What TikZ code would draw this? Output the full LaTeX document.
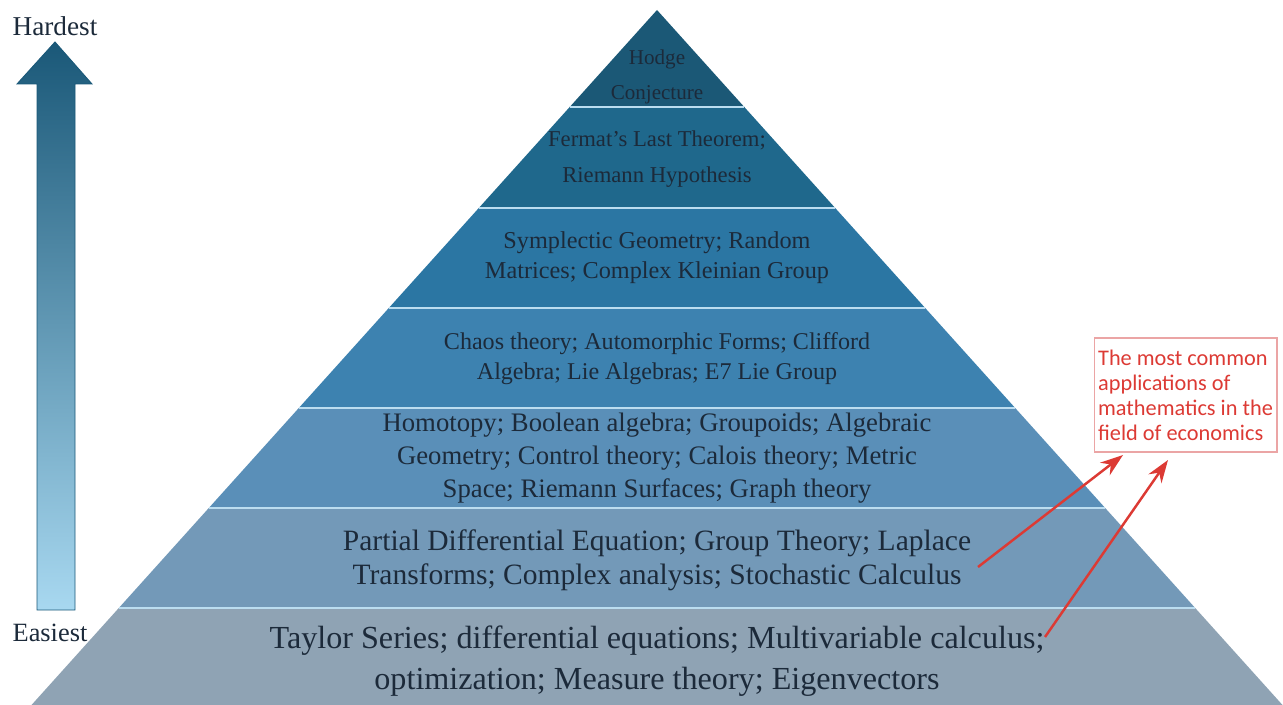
\documentclass[tikz,border=0pt]{standalone}
\usepackage{fontspec}
\setmainfont{Liberation Serif}
\newfontfamily\notefont{Carlito}
\usetikzlibrary{positioning}
\usetikzlibrary{arrows.meta}
\definecolor{bandA}{HTML}{1B5876}
\definecolor{bandB}{HTML}{1F688C}
\definecolor{bandC}{HTML}{2B76A3}
\definecolor{bandD}{HTML}{3D82B0}
\definecolor{bandE}{HTML}{5A8FB8}
\definecolor{bandF}{HTML}{7399B8}
\definecolor{bandG}{HTML}{8FA3B4}
\definecolor{sepc}{HTML}{BBDDF0}
\definecolor{textc}{HTML}{1C2A3A}
\definecolor{arrtop}{HTML}{1A5878}
\definecolor{arrmid}{HTML}{3F82AC}
\definecolor{arrbot}{HTML}{A8D8F0}
\definecolor{notered}{HTML}{DC3A34}
\definecolor{noteframe}{HTML}{EBA5A5}

\begin{document}
\begin{tikzpicture}[x=0.02cm, y=-0.02cm, thick,
    txt/.style = {align=center, text=textc, inner sep=0},
    sep/.style = {draw=sepc, line width=1.6pt},
    redarr/.style = {draw=notered, line width=1.4pt, -{Stealth[length=13pt, width=9pt]}}]
\useasboundingbox (0,0) rectangle (1283,705);

\foreach \ya/\yb/\c in {10/107/bandA, 107/208/bandB, 208/308/bandC, 308/408/bandD, 408/508/bandE, 508/608/bandF, 608/705/bandG}
    \fill[\c] ({657-0.9*(\ya-10)},\ya) -- ({657+0.9*(\ya-10)},\ya) -- ({657+0.9*(\yb-10)},\yb) -- ({657-0.9*(\yb-10)},\yb) -- cycle;
\foreach \y in {107,208,308,408,508,608}
    \draw[sep] ({657-0.9*(\y-10)},\y) -- ({657+0.9*(\y-10)},\y);

\node[txt, font=\fontsize{12}{20}\selectfont] (hodge) at (657,77) {Hodge\\Conjecture};
\node[txt, font=\fontsize{12.9}{20.4}\selectfont] (fermat) at (657,159) {Fermat's Last Theorem;\\Riemann Hypothesis};
\node[txt, font=\fontsize{13.8}{17}\selectfont] (sympl) at (657,258) {Symplectic Geometry; Random\\Matrices; Complex Kleinian Group};
\node[txt, font=\fontsize{13.7}{17}\selectfont] (chaos) at (657,359) {Chaos theory; Automorphic Forms; Clifford\\Algebra; Lie Algebras; E7 Lie Group};
\node[txt, font=\fontsize{15.2}{18.7}\selectfont] (homot) at (657,458) {Homotopy; Boolean algebra; Groupoids; Algebraic\\Geometry; Control theory; Calois theory; Metric\\Space; Riemann Surfaces; Graph theory};
\node[txt, font=\fontsize{16.8}{19.3}\selectfont] (pde) at (657,560) {Partial Differential Equation; Group Theory; Laplace\\Transforms; Complex analysis; Stochastic Calculus};
\node[txt, font=\fontsize{18.3}{23.2}\selectfont] (taylor) at (657,661) {Taylor Series; differential equations; Multivariable calculus;\\optimization; Measure theory; Eigenvectors};

\coordinate (tip) at (55,42);
\shade[top color=arrtop, middle color=arrmid, bottom color=arrbot, draw=arrtop, line width=0.5pt]
    (tip) -- (92,84) -- (75,84) -- (75,610) -- (37,610) -- (37,84) -- (17,84) -- cycle;
\node[txt, font=\fontsize{15.5}{18}\selectfont] (hard) [above=0.12cm of tip] {Hardest};
\node[txt, font=\fontsize{15}{18}\selectfont] (easy) at (50,633) {Easiest};

\node[draw=noteframe, line width=0.6pt, text=notered, align=left, font=\notefont\fontsize{12.7}{14.2}\selectfont,
    minimum width=3.66cm, minimum height=2.28cm, inner xsep=0.05cm] (apps) at (1185.5,395)
    {The most common\\applications of\\mathematics in the\\field of economics};

\coordinate (s1) at (978,567);
\coordinate (s2) at (1045,637);
\coordinate (t1) at (1123,455);
\coordinate (t2) at (1168,460);
\draw[redarr] (s1) -- (t1);
\draw[redarr] (s2) -- (t2);
\end{tikzpicture}
\end{document}
